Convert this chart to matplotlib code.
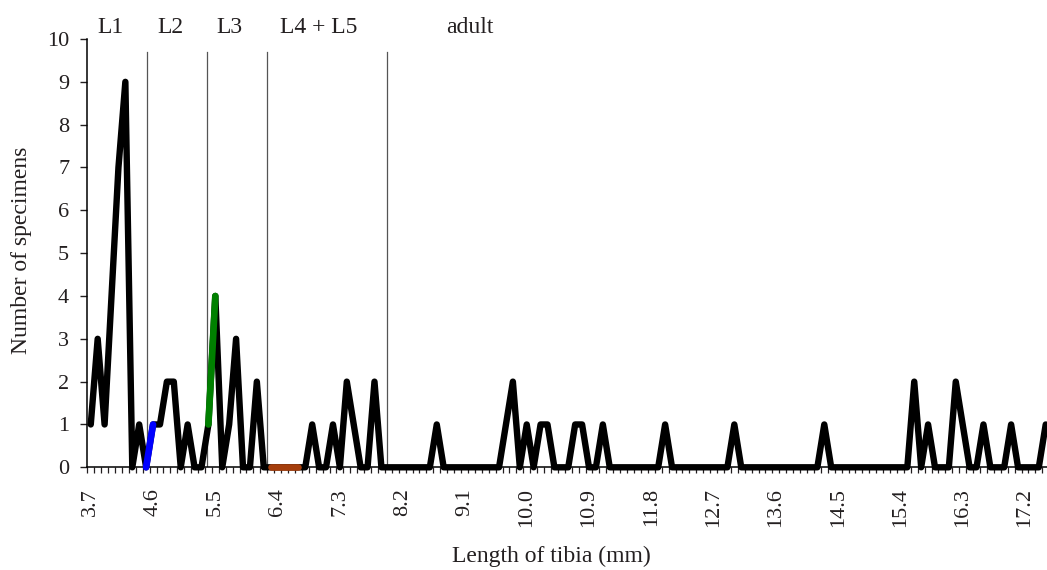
import matplotlib
matplotlib.use("Agg")
import matplotlib.pyplot as plt
import numpy as np

# ---- data ----
tibia_length = [3.7, 3.8, 3.9, 4.0, 4.1, 4.2, 4.3, 4.4, 4.5, 4.6,
                4.7, 4.8, 4.9, 5.0, 5.1, 5.2, 5.3, 5.4, 5.5, 5.6,
                5.7, 5.8, 5.9, 6.0, 6.1, 6.2, 6.3, 6.4, 6.5, 6.6,
                6.7, 6.8, 6.9, 7.0, 7.1, 7.2, 7.3, 7.4, 7.5, 7.6,
                7.7, 7.8, 7.9, 8.0, 8.1, 8.2, 8.3, 8.4, 8.5, 8.6,
                8.7, 8.8, 8.9, 9.0, 9.1, 9.2, 9.3, 9.4, 9.5, 9.6,
                9.7, 9.8, 9.9, 10.0, 10.1, 10.2, 10.3, 10.4, 10.5, 10.6,
                10.7, 10.8, 10.9, 11.0, 11.1, 11.2, 11.3, 11.4, 11.5, 11.6,
                11.7, 11.8, 11.9, 12.0, 12.1, 12.2, 12.3, 12.4, 12.5, 12.6,
                12.7, 12.8, 12.9, 13.0, 13.1, 13.2, 13.3, 13.4, 13.5, 13.6,
                13.7, 13.8, 13.9, 14.0, 14.1, 14.2, 14.3, 14.4, 14.5, 14.6,
                14.7, 14.8, 14.9, 15.0, 15.1, 15.2, 15.3, 15.4, 15.5, 15.6,
                15.7, 15.8, 15.9, 16.0, 16.1, 16.2, 16.3, 16.4, 16.5, 16.6,
                16.7, 16.8, 16.9, 17.0, 17.1, 17.2, 17.3, 17.4, 17.5]

specimens = [1, 3, 1, 4, 7, 9, 0, 1, 0, 1,
             1, 2, 2, 0, 1, 0, 0, 1, 4, 0,
             1, 3, 0, 0, 2, 0, 0, 0, 0, 0,
             0, 0, 1, 0, 0, 1, 0, 2, 1, 0,
             0, 2, 0, 0, 0, 0, 0, 0, 0, 0,
             1, 0, 0, 0, 0, 0, 0, 0, 0, 0,
             1, 2, 0, 1, 0, 1, 1, 0, 0, 0,
             1, 1, 0, 0, 1, 0, 0, 0, 0, 0,
             0, 0, 0, 1, 0, 0, 0, 0, 0, 0,
             0, 0, 0, 1, 0, 0, 0, 0, 0, 0,
             0, 0, 0, 0, 0, 0, 1, 0, 0, 0,
             0, 0, 0, 0, 0, 0, 0, 0, 0, 2,
             0, 1, 0, 0, 0, 2, 1, 0, 0, 1,
             0, 0, 0, 1, 0, 0, 0, 0, 1]

# highlighted transitions (start, end length in mm)
highlight_ranges = [(4.5, 4.6), (5.4, 5.5), (6.3, 6.7)]

stage_names = ["L1", "L2", "L3", "L4 + L5", "adult"]
stage_boundaries_mm = [4.518, 5.376, 6.243, 7.977]

# ---- styling ----
TEXT = "#231f20"
plt.rcParams["font.family"] = ["Liberation Serif", "DejaVu Serif"]
plt.rcParams["font.size"] = 16
plt.rcParams["text.color"] = TEXT
plt.rcParams["axes.labelcolor"] = TEXT
plt.rcParams["xtick.color"] = TEXT
plt.rcParams["ytick.color"] = TEXT

W, H = 1047, 570
fig = plt.figure(figsize=(W / 100, H / 100), dpi=100)
left_px, bottom_px, top_px = 87.3, 467.3, 39.0
step_px = 6.92
n = len(tibia_length)
ax = fig.add_axes([left_px / W, (H - bottom_px) / H,
                   n * step_px / W, (bottom_px - top_px) / H])

x = np.arange(n)
idx = {round(v, 1): i for i, v in enumerate(tibia_length)}

ax.plot(x, specimens, color="black", lw=4.6, clip_on=False,
        solid_joinstyle="round", solid_capstyle="round", zorder=3)

hl_colors = ["#0000ff", "#008000", "#a53e0c"]
for (a, b), c in zip(highlight_ranges, hl_colors):
    i0, i1 = idx[a], idx[b]
    ax.plot(x[i0:i1 + 1], specimens[i0:i1 + 1], color=c, lw=4.8,
            clip_on=False, solid_joinstyle="round",
            solid_capstyle="round", zorder=4)

for bmm in stage_boundaries_mm:
    bx = (bmm - tibia_length[0]) / 0.1
    ax.plot([bx, bx], [0, 9.7], color="#555555", lw=0.9, zorder=2)

stage_label_mm = [3.99, 4.845, 5.71, 6.99, 9.18]
for name, pmm in zip(stage_names, stage_label_mm):
    ax.text((pmm - tibia_length[0]) / 0.1, 10.13, name, ha="center",
            va="baseline", fontsize=17, clip_on=False)

ax.set_xlim(-0.5, n - 0.5)
ax.set_ylim(0, 10)
ax.set_yticks(range(0, 11))
ax.set_xticks(x[::9])
ax.set_xticklabels([f"{v:.1f}" for v in tibia_length[::9]], rotation=90)
ax.set_xticks(np.arange(-0.5, n, 1.0), minor=True)
ax.tick_params(axis="x", which="major", length=0, pad=15, labelsize=16)
ax.tick_params(axis="x", which="minor", length=4.3, width=0.9, direction="out")
ax.tick_params(axis="y", length=5, width=1.0, pad=8, labelsize=16)

for s in ["top", "right"]:
    ax.spines[s].set_visible(False)
ax.spines["left"].set_linewidth(1.1)
ax.spines["bottom"].set_linewidth(1.1)

ax.set_xlabel("Length of tibia (mm)", fontsize=17)
ax.xaxis.set_label_coords((551.5 - left_px) / (n * step_px),
                          -(556.5 - bottom_px) / (bottom_px - top_px))
ax.xaxis.label.set_va("center")
ax.set_ylabel("Number of specimens", fontsize=17)
ax.yaxis.set_label_coords(-(left_px - 21.5) / (n * step_px),
                          (bottom_px - 250) / (bottom_px - top_px))
ax.yaxis.label.set_va("center")

fig.savefig("out.png", dpi=100)
